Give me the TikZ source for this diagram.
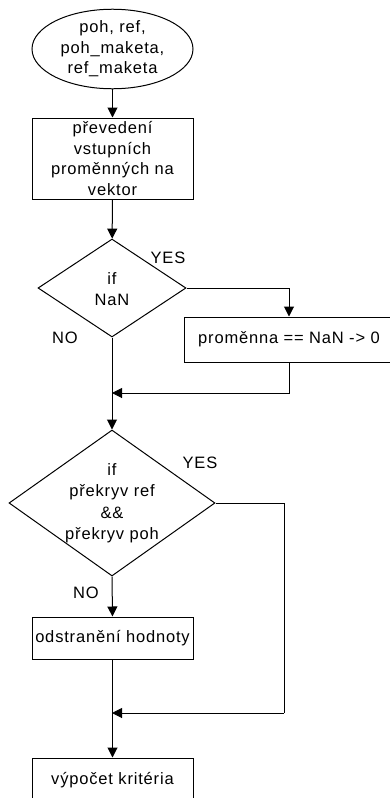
\documentclass[tikz,border=0pt]{standalone}
\usepackage{fontspec}
\setmainfont{Liberation Sans}[LetterSpace=5]
\usetikzlibrary{shapes.geometric,arrows.meta}
\begin{document}
\begin{tikzpicture}[x=1pt,y=-1pt,
  every node/.style={font=\fontsize{16.5}{20.5}\selectfont, align=center, inner sep=0pt},
  stepbox/.style={draw, line width=1pt, rectangle},
  startshape/.style={draw, line width=1pt, ellipse},
  decision/.style={draw, line width=1pt, diamond},
  flow/.style={line width=1pt, -{Triangle[length=10pt,width=10pt]}},
  plain/.style={line width=1pt},
  tag/.style={font=\fontsize{16.5}{20}\selectfont}]
\useasboundingbox (0,0) rectangle (389,798);

% nodes
\node[startshape, minimum width=161pt, minimum height=74pt] (start) at (112.5,49) {poh, ref,\\poh\_maketa,\\ref\_maketa};
\node[stepbox, minimum width=161pt, minimum height=81pt] (conv) at (112.5,158.5) {převedení\\vstupních\\proměnných na\\vektor};
\node[decision, minimum width=148pt, minimum height=98pt] (d1) at (112,288) {};
\node (d1text) at (112,289) {if\\NaN};
\node[stepbox, minimum width=210pt, minimum height=45pt] (zero) at (289,339.5) {proměnna == NaN -> 0};
\node[decision, minimum width=206pt, minimum height=146pt] (d2) at (112,503) {};
\node[font=\fontsize{16.5}{21.5}\selectfont] (d2text) at (112,503) {if\\překryv ref\\\&\&\\překryv poh};
\node[stepbox, minimum width=161pt, minimum height=42pt] (remove) at (112.5,638) {odstranění hodnoty};
\node[stepbox, minimum width=161pt, minimum height=44pt] (crit) at (112.5,780) {výpočet kritéria};

% branch labels
\node[tag] (yes1) at (168,258) {YES};
\node[tag] (no1) at (65,338) {NO};
\node[tag] (yes2) at (200,463) {YES};
\node[tag] (no2) at (86,593) {NO};

% merge points on the main line
\coordinate (m1) at (112,393);
\coordinate (m2) at (112,713);
\coordinate (c2) at (284,713);

% connectors
\draw[flow] (start) -- (conv);
\draw[flow] (conv) -- (d1);
\draw[flow] (d1.east) -| (zero.north);
\draw[flow] (zero.south) |- (m1);
\draw[flow] (d1.south) -- (d2.north);
\draw[plain] (d2.east) -| (c2);
\draw[flow] (c2) -- (m2);
\draw[flow] (d2.south) -- (remove.north);
\draw[flow] (remove.south) -- (crit.north);
\end{tikzpicture}
\end{document}
